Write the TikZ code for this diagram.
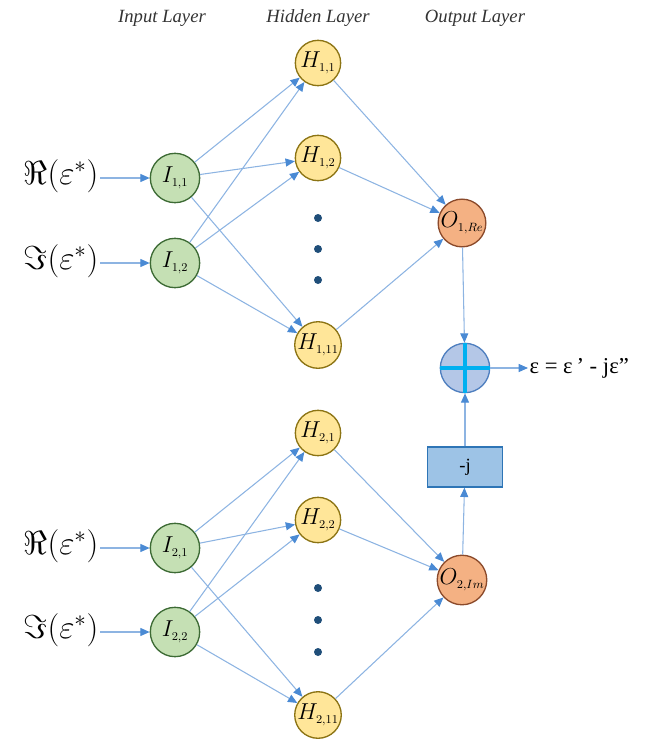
\documentclass[tikz,border=0pt]{standalone}
\usepackage{fontspec}
\setmainfont{Liberation Serif}
\usetikzlibrary{arrows.meta}
\definecolor{lineblue}{HTML}{8DB4E2}
\definecolor{tipblue}{HTML}{4A8AD4}
\definecolor{ingreen}{HTML}{C5E0B4}
\definecolor{ingreenD}{HTML}{3D6B35}
\definecolor{hidY}{HTML}{FFE699}
\definecolor{hidYD}{HTML}{8C7414}
\definecolor{outO}{HTML}{F4B183}
\definecolor{outOD}{HTML}{8B4A2B}
\definecolor{sumB}{HTML}{B4C7E7}
\definecolor{sumBD}{HTML}{4F7FBF}
\definecolor{crossC}{HTML}{00B0F0}
\definecolor{boxB}{HTML}{9DC3E6}
\definecolor{boxBD}{HTML}{2E75B6}
\definecolor{dotB}{HTML}{1F4E79}
\tikzset{
  conn/.style={draw=lineblue, line width=0.8pt, -{Triangle[length=7pt,width=6pt,color=tipblue]}},
  innode/.style={circle, draw=ingreenD, fill=ingreen, line width=1pt, minimum size=37pt, inner sep=0pt, font=\fontsize{19}{19}\selectfont},
  hidnode/.style={circle, draw=hidYD, fill=hidY, line width=1pt, minimum size=34pt, inner sep=0pt, font=\fontsize{19}{19}\selectfont},
  outnode/.style={circle, draw=outOD, fill=outO, line width=1pt, minimum size=35pt, inner sep=0pt, font=\fontsize{18}{18}\selectfont},
  vdot/.style={circle, fill=dotB, minimum size=6pt, inner sep=0pt},
  title/.style={font=\fontsize{14}{14}\selectfont\itshape, text=black!80},
  lab/.style={font=\fontsize{25}{25}\selectfont, inner sep=1pt},
}
\begin{document}
\begin{tikzpicture}[x=0.75pt, y=-0.75pt]
\useasboundingbox (0,0) rectangle (665,743);
% titles
\node[title] (t1) at (162,18) {Input Layer};
\node[title] (t2) at (318,18) {Hidden Layer};
\node[title] (t3) at (475,18) {Output Layer};

% ---------- network 1 ----------
\node[innode] (I11) at (175,178) {$I_{\scriptscriptstyle 1,1}$};
\node[innode] (I12) at (175,263) {$I_{\scriptscriptstyle 1,2}$};
\node[hidnode] (H11) at (318,63) {$H_{\scriptscriptstyle 1,1}$};
\node[hidnode] (H12) at (318,158) {$H_{\scriptscriptstyle 1,2}$};
\node[hidnode] (H1n) at (318,345) {$H_{\scriptscriptstyle 1,11}$};
\node[vdot] (d11) at (318,218) {};
\node[vdot] (d12) at (318,249) {};
\node[vdot] (d13) at (318,280) {};
\node[outnode] (O1) at (462,223) {$O_{\scriptscriptstyle 1,Re}$};
\node[lab, anchor=east] (R1) at (100,176) {$\Re(\varepsilon^*)$};
\node[lab, anchor=east] (J1) at (100,261) {$\Im(\varepsilon^*)$};

\draw[conn] (R1.east |- I11) -- (I11);
\draw[conn] (J1.east |- I12) -- (I12);
\foreach \i in {I11,I12}{
  \foreach \h in {H11,H12,H1n}{
    \draw[conn] (\i) -- (\h);
  }
}
\foreach \h in {H11,H12,H1n}{
  \draw[conn] (\h) -- (O1);
}

% ---------- network 2 ----------
\node[innode] (I21) at (175,548) {$I_{\scriptscriptstyle 2,1}$};
\node[innode] (I22) at (175,632) {$I_{\scriptscriptstyle 2,2}$};
\node[hidnode] (H21) at (318,433) {$H_{\scriptscriptstyle 2,1}$};
\node[hidnode] (H22) at (318,520) {$H_{\scriptscriptstyle 2,2}$};
\node[hidnode] (H2n) at (318,715) {$H_{\scriptscriptstyle 2,11}$};
\node[vdot] (d21) at (318,588) {};
\node[vdot] (d22) at (318,620) {};
\node[vdot] (d23) at (318,652) {};
\node[outnode] (O2) at (462,580) {$O_{\scriptscriptstyle 2,Im}$};
\node[lab, anchor=east] (R2) at (100,546) {$\Re(\varepsilon^*)$};
\node[lab, anchor=east] (J2) at (100,630) {$\Im(\varepsilon^*)$};

\draw[conn] (R2.east |- I21) -- (I21);
\draw[conn] (J2.east |- I22) -- (I22);
\foreach \i in {I21,I22}{
  \foreach \h in {H21,H22,H2n}{
    \draw[conn] (\i) -- (\h);
  }
}
\foreach \h in {H21,H22,H2n}{
  \draw[conn] (\h) -- (O2);
}

% ---------- combiner ----------
\node[circle, draw=sumBD, fill=sumB, line width=1pt, minimum size=37pt, inner sep=0pt] (S) at (465,368) {};
\draw[crossC, line width=2.5pt] (S.north) -- (S.south);
\draw[crossC, line width=2.5pt] (S.west) -- (S.east);
\node[draw=boxBD, fill=boxB, line width=1pt, minimum width=56pt, minimum height=30pt, inner sep=0pt, font=\fontsize{14}{14}\selectfont] (B) at (465,467) {-j};
\draw[conn] (O1) -- (S);
\draw[conn] (O2) -- (B);
\draw[conn] (B) -- (S);
\coordinate (E) at (528,368);
\draw[conn] (S) -- (E);
\node[font=\fontsize{17}{17}\selectfont, anchor=west, inner sep=1pt] (L) at (E) {ε = ε\,\symbol{"27} - jε\symbol{"22}};
\end{tikzpicture}
\end{document}
